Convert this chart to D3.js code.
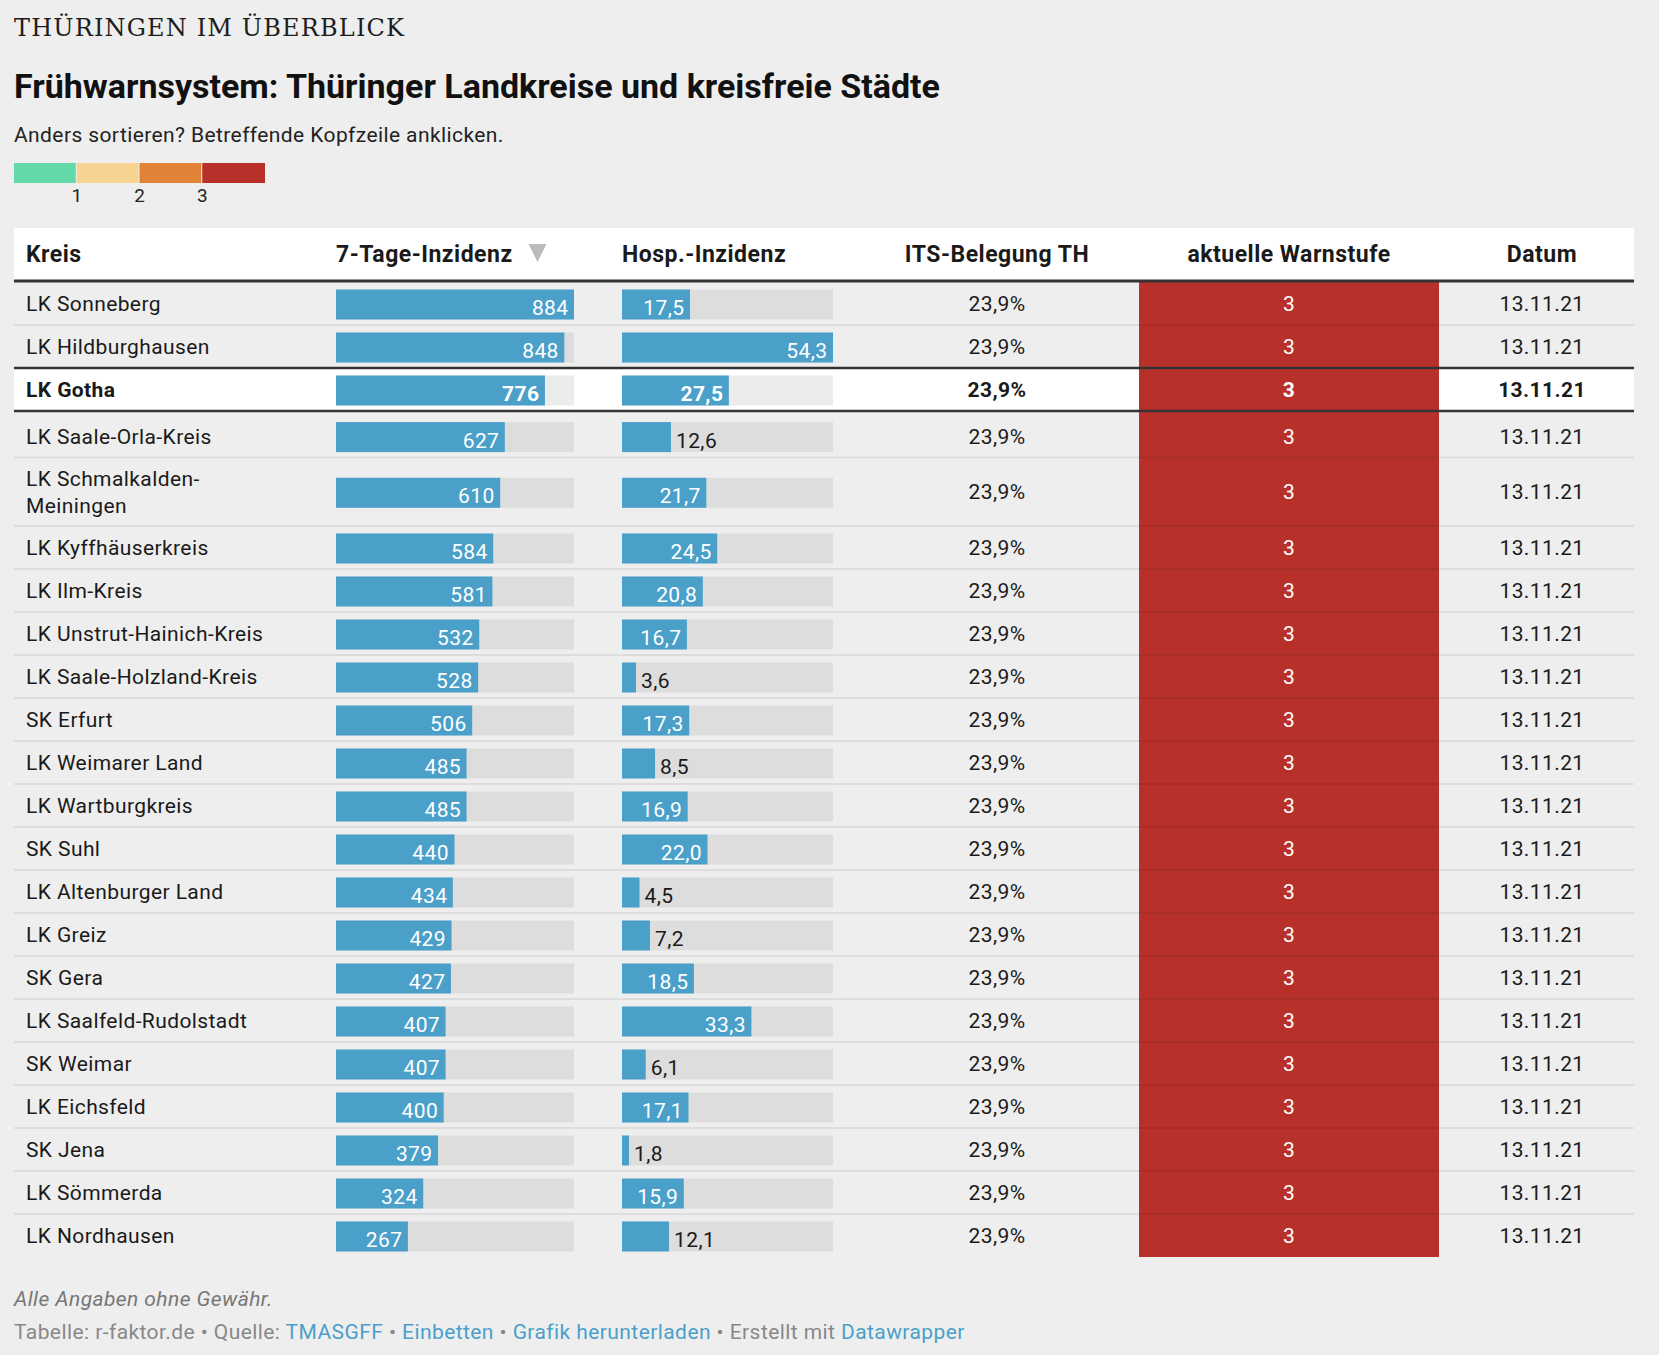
<!DOCTYPE html>
<html>
<head>
<meta charset="utf-8">
<script src="https://cdn.jsdelivr.net/npm/d3@7"></script>
<style>
  body { margin: 0; background: #eeeeee; }
  svg { display: block; font-family: Roboto, "Noto Sans", sans-serif; }
</style>
</head>
<body>
<div id="chart-area"></div>
<script>
var kreise = ["LK Sonneberg", "LK Hildburghausen", "LK Gotha", "LK Saale-Orla-Kreis",
	"LK Schmalkalden-Meiningen", "LK Kyffhäuserkreis", "LK Ilm-Kreis", "LK Unstrut-Hainich-Kreis",
	"LK Saale-Holzland-Kreis", "SK Erfurt", "LK Weimarer Land", "LK Wartburgkreis", "SK Suhl",
	"LK Altenburger Land", "LK Greiz", "SK Gera", "LK Saalfeld-Rudolstadt", "SK Weimar",
	"LK Eichsfeld", "SK Jena", "LK Sömmerda", "LK Nordhausen"];
var inzidenz = [884, 848, 776, 627, 610, 584, 581, 532, 528, 506, 485, 485, 440, 434, 429, 427, 407, 407, 400, 379, 324, 267];
var hospInzidenz = [17.5, 54.3, 27.5, 12.6, 21.7, 24.5, 20.8, 16.7, 3.6, 17.3, 8.5, 16.9, 22.0, 4.5, 7.2, 18.5, 33.3, 6.1, 17.1, 1.8, 15.9, 12.1];
var itsBelegung = [23.9, 23.9, 23.9, 23.9, 23.9, 23.9, 23.9, 23.9, 23.9, 23.9, 23.9, 23.9, 23.9, 23.9, 23.9, 23.9, 23.9, 23.9, 23.9, 23.9, 23.9, 23.9];
var warnstufe = [3, 3, 3, 3, 3, 3, 3, 3, 3, 3, 3, 3, 3, 3, 3, 3, 3, 3, 3, 3, 3, 3];
var datum = ["13.11.21", "13.11.21", "13.11.21", "13.11.21", "13.11.21", "13.11.21", "13.11.21", "13.11.21",
	"13.11.21", "13.11.21", "13.11.21", "13.11.21", "13.11.21", "13.11.21", "13.11.21", "13.11.21",
	"13.11.21", "13.11.21", "13.11.21", "13.11.21", "13.11.21", "13.11.21"];
var highlighted = "LK Gotha";
var headers = ["Kreis", "7-Tage-Inzidenz", "Hosp.-Inzidenz", "ITS-Belegung TH", "aktuelle Warnstufe", "Datum"];
var stufen = [0, 1, 2, 3];
var stufenLabels = ["1", "2", "3"];

var width = 1659;
var height = 1355;
var left = 14, right = 1634;

var de = d3.formatLocale({decimal: ",", thousands: ".", grouping: [3], currency: ["", " €"]});
var fmt1 = de.format(".1f");

var svg = d3.select("#chart-area")
	.append("svg")
	.attr("width", width)
	.attr("height", height);

svg.append("rect").attr("width", width).attr("height", height).attr("fill", "#eeeeee");

// kopf
svg.append("text")
	.attr("x", left).attr("y", 36)
	.attr("font-family", "'DejaVu Serif', serif")
	.attr("font-size", "24px")
	.attr("fill", "#1d1d1d")
	.attr("textLength", 390)
	.attr("lengthAdjust", "spacing")
	.text("THÜRINGEN IM ÜBERBLICK");

svg.append("text")
	.attr("x", left).attr("y", 98)
	.attr("font-size", "34px")
	.attr("font-weight", 700)
	.attr("fill", "#111")
	.text("Frühwarnsystem: Thüringer Landkreise und kreisfreie Städte");

svg.append("text")
	.attr("x", left).attr("y", 142)
	.attr("font-size", "21px")
	.attr("letter-spacing", "0.4px")
	.attr("fill", "#222")
	.text("Anders sortieren? Betreffende Kopfzeile anklicken.");

// legende
var stufeColor = d3.scaleOrdinal()
	.domain(stufen)
	.range(["#63d9aa", "#f7d391", "#e18336", "#b7312a"]);

var legendX = d3.scaleBand().domain(stufen).range([left, 265]);

svg.selectAll("rect.legend")
	.data(stufen)
	.enter().append("rect")
	.attr("class", "legend")
	.attr("x", (d) => legendX(d))
	.attr("y", 163)
	.attr("width", (d, i) => legendX.bandwidth() - (i < 3 ? 1 : 0))
	.attr("height", 20)
	.attr("fill", (d) => stufeColor(d));

svg.selectAll("text.legend")
	.data(stufenLabels)
	.enter().append("text")
	.attr("class", "legend")
	.attr("x", (d, i) => legendX(stufen[i + 1]))
	.attr("y", 202)
	.attr("text-anchor", "middle")
	.attr("font-size", "19px")
	.attr("fill", "#222")
	.text((d) => d);

// tabellenkopf
svg.append("rect")
	.attr("x", left).attr("y", 228)
	.attr("width", right - left).attr("height", 52)
	.attr("fill", "#ffffff");

var colX = {kreis: 26, inz: 336, hosp: 622, its: 997, stufe: 1289, datum: 1542};
var headerPos = [
	{x: colX.kreis, anchor: "start"},
	{x: colX.inz, anchor: "start"},
	{x: colX.hosp, anchor: "start"},
	{x: colX.its, anchor: "middle"},
	{x: colX.stufe, anchor: "middle"},
	{x: colX.datum, anchor: "middle"}
];

svg.selectAll("text.header")
	.data(headers)
	.enter().append("text")
	.attr("class", "header")
	.attr("x", (d, i) => headerPos[i].x)
	.attr("y", 262)
	.attr("text-anchor", (d, i) => headerPos[i].anchor)
	.attr("font-size", "23px")
	.attr("letter-spacing", "0.5px")
	.attr("font-weight", 700)
	.attr("fill", "#1a1a1a")
	.text((d) => d);

svg.append("path")
	.attr("d", "M528.5,244 L546.5,244 L537.5,262 Z")
	.attr("fill", "#bbbbbb");

// zeilen
var rows = kreise.map((k, i) => ({
	kreis: k, inz: inzidenz[i], hosp: hospInzidenz[i], its: itsBelegung[i],
	stufe: warnstufe[i], datum: datum[i], bold: k == highlighted
}));

var measure = svg.append("text").attr("font-size", "21px").attr("letter-spacing", "0.4px").attr("visibility", "hidden");
rows.forEach((r) => {
	measure.text(r.kreis);
	if (measure.node().getComputedTextLength() > 255 && r.kreis.indexOf("-") > 0) {
		var cut = r.kreis.indexOf("-") + 1;
		r.lines = [r.kreis.slice(0, cut), r.kreis.slice(cut)];
	} else {
		r.lines = [r.kreis];
	}
});
measure.remove();

var top0 = 282;
var baseH = 43, lineExtra = 25.4, afterBold = 3.6;
var acc = top0;
rows.forEach((r, i) => {
	var pad = (i > 0 && rows[i - 1].bold) ? afterBold : 0;
	r.y0 = acc;
	r.h = baseH + (r.lines.length - 1) * lineExtra + pad;
	r.cy = r.y0 + pad + (r.h - pad) / 2;
	acc += r.h;
});
var bottom0 = acc;

var xInz = d3.scaleLinear().domain([0, d3.max(inzidenz)]).range([0, 238]);
var xHosp = d3.scaleLinear().domain([0, d3.max(hospInzidenz)]).range([0, 211]);

var gRows = svg.append("g");

// hervorgehobene zeile
rows.filter((r) => r.bold).forEach((r) => {
	gRows.append("rect")
		.attr("x", left).attr("y", r.y0)
		.attr("width", right - left).attr("height", r.h)
		.attr("fill", "#ffffff");
});

// warnstufe spalte
gRows.append("rect")
	.attr("x", 1139).attr("y", top0 - 1)
	.attr("width", 300).attr("height", bottom0 - top0 + 1)
	.attr("fill", stufeColor(3));

// trennlinien
rows.forEach((r, i) => {
	if (i == 0) return;
	var prev = rows[i - 1];
	var thick = r.bold || prev.bold;
	gRows.append("line")
		.attr("x1", left).attr("x2", right)
		.attr("y1", r.y0).attr("y2", r.y0)
		.attr("stroke", thick ? "#333333" : "rgba(0,0,0,0.07)")
		.attr("stroke-width", thick ? 2.6 : 2);
});

svg.append("line")
	.attr("x1", left).attr("x2", right)
	.attr("y1", 281).attr("y2", 281)
	.attr("stroke", "#333333")
	.attr("stroke-width", 3);

var row = gRows.selectAll("g.row")
	.data(rows)
	.enter().append("g")
	.attr("class", "row")
	.attr("font-size", "21px")
	.attr("letter-spacing", "0.4px")
	.attr("font-weight", (d) => d.bold ? 700 : 400);

row.each(function(d) {
	var sel = d3.select(this);
	var t = sel.append("text").attr("x", colX.kreis).attr("fill", "#1a1a1a");
	var lh = 26.7;
	d.lines.forEach((l, j) => {
		t.append("tspan")
			.attr("x", colX.kreis)
			.attr("y", d.cy + 7.5 - (d.lines.length - 1) * lh / 2 + j * lh)
			.text(l);
	});
});

function bars(x0, scale, key, label, trackW) {
	row.append("rect")
		.attr("x", x0)
		.attr("y", (d) => d.cy - 14)
		.attr("width", trackW)
		.attr("height", 30)
		.attr("fill", (d) => d.bold ? "#ececec" : "#dddddd");
	row.append("rect")
		.attr("x", x0)
		.attr("y", (d) => d.cy - 14)
		.attr("width", (d) => scale(d[key]))
		.attr("height", 30)
		.attr("fill", "#4ba0ca");
	row.append("text")
		.attr("y", (d) => d.cy + 11.5)
		.text((d) => label(d[key]))
		.each(function(d) {
			var w = this.getComputedTextLength();
			var bw = scale(d[key]);
			var inside = w + 10 < bw;
			d3.select(this)
				.attr("x", inside ? x0 + bw - 5.5 : x0 + bw + 5)
				.attr("text-anchor", inside ? "end" : "start")
				.attr("fill", inside ? "#ffffff" : "#1a1a1a");
		});
}

bars(colX.inz, xInz, "inz", (v) => de.format("d")(v), 238);
bars(colX.hosp, xHosp, "hosp", fmt1, 211);

row.append("text")
	.attr("x", colX.its)
	.attr("y", (d) => d.cy + 7.5)
	.attr("text-anchor", "middle")
	.attr("fill", "#1a1a1a")
	.text((d) => fmt1(d.its) + "%");

row.append("text")
	.attr("x", colX.stufe)
	.attr("y", (d) => d.cy + 7.5)
	.attr("text-anchor", "middle")
	.attr("fill", "#ffffff")
	.text((d) => d.stufe);

row.append("text")
	.attr("x", colX.datum)
	.attr("y", (d) => d.cy + 7.5)
	.attr("text-anchor", "middle")
	.attr("fill", "#1a1a1a")
	.text((d) => d.datum);

// fusszeile
svg.append("text")
	.attr("x", left).attr("y", 1306)
	.attr("font-size", "21px")
	.attr("letter-spacing", "0.42px")
	.attr("font-style", "italic")
	.attr("fill", "#777777")
	.text("Alle Angaben ohne Gewähr.");

var footParts = [
	["Tabelle: r-faktor.de • Quelle: ", false],
	["TMASGFF", true],
	[" • ", false],
	["Einbetten", true],
	[" • ", false],
	["Grafik herunterladen", true],
	[" • Erstellt mit ", false],
	["Datawrapper", true]
];

svg.append("text")
	.attr("x", left).attr("y", 1339)
	.attr("font-size", "21px")
	.attr("letter-spacing", "0.42px")
	.style("white-space", "pre")
	.selectAll("tspan")
	.data(footParts)
	.enter().append("tspan")
	.attr("fill", (d) => d[1] ? "#4a9fcb" : "#888888")
	.text((d) => d[0]);
</script>
</body>
</html>
